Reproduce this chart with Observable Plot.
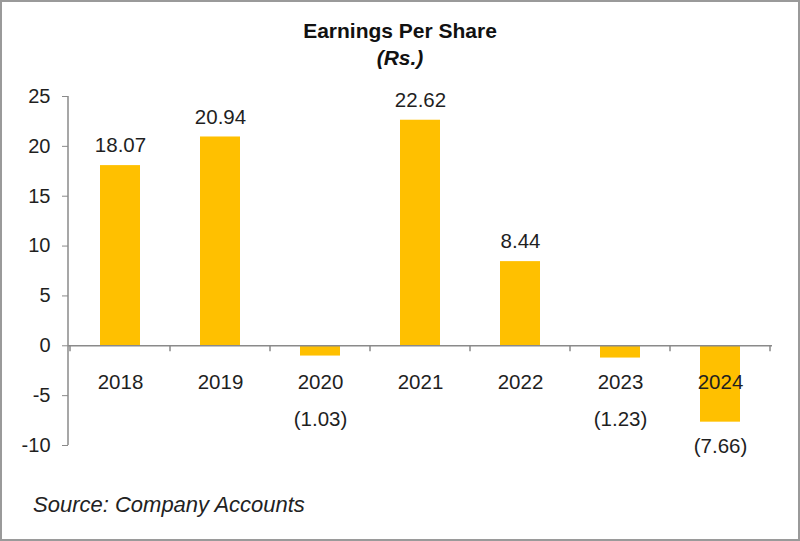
<!DOCTYPE html>
<html>
<head>
<meta charset="utf-8">
<script src="https://cdn.jsdelivr.net/npm/d3@7"></script>
<script src="https://cdn.jsdelivr.net/npm/@observablehq/plot@0.6"></script>
<style>
  body { margin: 0; background: #fff; }
  #wrap { position: relative; width: 800px; height: 541px; overflow: hidden; font-family: "Liberation Sans", Arial, sans-serif; color: #1a1a1a; }
  #chart { position: absolute; left: 0; top: 0; }
  #border { position: absolute; left: 0; top: 0; width: 800px; height: 541px; box-sizing: border-box; border: 2px solid #9a9a9a; pointer-events: none; }
  #title { position: absolute; left: 0; width: 800px; top: 17px; text-align: center; font-weight: bold; font-size: 21px; line-height: 27px; color: #111; }
  #title .sub { font-style: italic; }
  #caption { position: absolute; left: 33px; top: 493px; font-style: italic; font-size: 22px; line-height: 24px; color: #222; }
</style>
</head>
<body>
<div id="wrap">
  <div id="chart"></div>
  <div id="title">Earnings Per Share<br><span class="sub">(Rs.)</span></div>
  <div id="caption">Source: Company Accounts</div>
  <div id="border"></div>
</div>
<script>
const years = ["2018", "2019", "2020", "2021", "2022", "2023", "2024"];
const eps = [18.07, 20.94, -1.03, 22.62, 8.44, -1.23, -7.66];
const valueLabels = ["18.07", "20.94", "(1.03)", "22.62", "8.44", "(1.23)", "(7.66)"];
const yTicks = [-10, -5, 0, 5, 10, 15, 20, 25];

const data = years.map((y, i) => ({ year: y, eps: eps[i], label: valueLabels[i] }));
const axisColor = "#8a8a8a";
const textColor = "#1f1f1f";

// y-axis line and category-boundary ticks on the zero line, drawn from the scales
function axisLines(index, scales, values, dim) {
  const x = scales.x, y = scales.y;
  const g = d3.create("svg:g");
  const yMin = d3.min(yTicks), yMax = d3.max(yTicks);
  g.append("line")
    .attr("x1", dim.marginLeft).attr("x2", dim.marginLeft)
    .attr("y1", y(yMax)).attr("y2", y(yMin))
    .attr("stroke", axisColor).attr("stroke-width", 1.5);
  const step = x(years[1]) - x(years[0]);
  const bounds = years.map(v => x(v) - step * 0.3);
  bounds.push(x(years[years.length - 1]) - step * 0.3 + step);
  for (const b of bounds) {
    g.append("line")
      .attr("x1", b).attr("x2", b)
      .attr("y1", y(0)).attr("y2", y(0) + 6)
      .attr("stroke", axisColor).attr("stroke-width", 1.5);
  }
  return g.node();
}

const chart = Plot.plot({
  width: 800,
  height: 541,
  marginLeft: 68,
  marginRight: 28,
  marginTop: 96,
  marginBottom: 96,
  style: { fontFamily: '"Liberation Sans", Arial, sans-serif', fontSize: "20px", color: textColor, background: "transparent" },
  x: { domain: years, paddingInner: 0.6, paddingOuter: 0.3, axis: null },
  y: { domain: [d3.min(yTicks), d3.max(yTicks)] },
  marks: [
    Plot.barY(data, { x: "year", y: "eps", fill: "#FFC000" }),
    Plot.ruleY([0], { stroke: axisColor, strokeWidth: 1.5 }),
    axisLines,
    Plot.axisY({ ticks: yTicks, tickSize: 6, tickPadding: 12, tickFormat: d => String(d), label: null, stroke: axisColor, fill: textColor, fontSize: 20 }),
    Plot.text(data, { x: "year", y: () => 0, dy: 37, text: "year", fontSize: 20.5, fill: textColor }),
    Plot.text(data.filter(d => d.eps > 0), { x: "year", y: "eps", dy: -20, text: "label", fontSize: 20.5, fill: textColor }),
    Plot.text(data.filter(d => d.eps < 0), { x: "year", y: d => Math.min(d.eps, -5), dy: 24, text: "label", fontSize: 20.5, fill: textColor })
  ]
});
document.getElementById("chart").appendChild(chart);
</script>
</body>
</html>
